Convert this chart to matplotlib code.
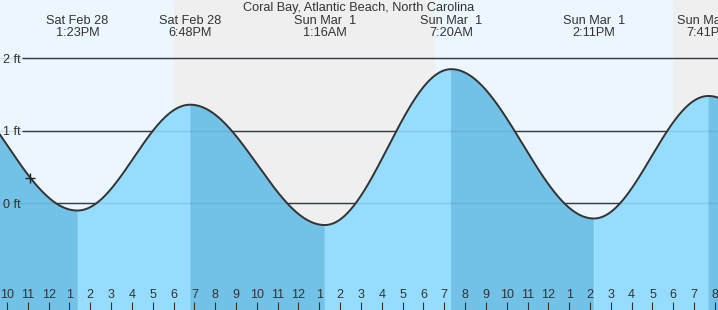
import numpy as np
import matplotlib
matplotlib.use('Agg')
import matplotlib.pyplot as plt
import matplotlib.transforms as mtransforms

plt.rcParams['font.family'] = ['Liberation Sans', 'DejaVu Sans']

# ---- data (time in hours since Sat Feb 28 00:00, heights in ft) ----
extreme_times = [6.5, 13.383, 18.8, 25.267, 31.333, 38.183, 43.683, 50.1]
extreme_heights = [1.76, -0.10, 1.36, -0.30, 1.85, -0.21, 1.48, -0.25]
label_times = [13.383, 18.8, 25.267, 31.333, 38.183, 43.683]
label_days = ['Sat Feb 28', 'Sat Feb 28', 'Sun Mar  1', 'Sun Mar  1', 'Sun Mar  1', 'Sun Mar  1']
label_clock = ['1:23PM', '6:48PM', '1:16AM', '7:20AM', '2:11PM', '7:41PM']
night_start = [18.02, 42.0]
night_end = [30.55, 50.0]
now_time = 11.12
grid_levels = [0, 1, 2]
grid_labels = ['0 ft', '1 ft', '2 ft']
tick_hours = list(range(10, 45))
tick_labels = ['10', '11', '12', '1', '2', '3', '4', '5', '6', '7', '8', '9', '10', '11',
               '12', '1', '2', '3', '4', '5', '6', '7', '8', '9', '10', '11', '12',
               '1', '2', '3', '4', '5', '6', '7', '8']
midnight_hours = [24]
title = 'Coral Bay, Atlantic Beach, North Carolina'

# ---- style ----
W, H = 718, 310
DAY_BG = '#ebf6fe'
NIGHT_BG = '#efefef'
FALL_FILL = '#72c1e6'
RISE_FILL = '#96dcfd'
INK = '#333333'


def tide(t):
    t = np.atleast_1d(np.asarray(t, dtype=float))
    T = np.array(extreme_times)
    Hh = np.array(extreme_heights)
    idx = np.clip(np.searchsorted(T, t) - 1, 0, len(T) - 2)
    t0, t1 = T[idx], T[idx + 1]
    h0, h1 = Hh[idx], Hh[idx + 1]
    return h0 + (h1 - h0) * (1 - np.cos(np.pi * (t - t0) / (t1 - t0))) / 2


fig = plt.figure(figsize=(W / 100, H / 100), dpi=100)
ax = fig.add_axes([0, 0, 1, 1])
x0, x1 = 9.667, 44.146
y0, y1 = -1.472, 2.804
ax.set_xlim(x0, x1)
ax.set_ylim(y0, y1)
ax.set_facecolor(DAY_BG)
for s in ax.spines.values():
    s.set_visible(False)
ax.yaxis.set_visible(False)

# night shading
for a, b in zip(night_start, night_end):
    ax.axvspan(a, b, color=NIGHT_BG, lw=0, zorder=0)

# gridlines (behind fill)
ytrans = ax.get_yaxis_transform()
ax.hlines(grid_levels, 22 / W, 1, transform=ytrans, color=INK, lw=1.0, zorder=1)

# fill under the tide curve, shaded by falling/rising
for i in range(len(extreme_times) - 1):
    ta, tb = extreme_times[i], extreme_times[i + 1]
    tt = np.linspace(ta, tb, 200)
    col = FALL_FILL if extreme_heights[i + 1] < extreme_heights[i] else RISE_FILL
    ax.fill_between(tt, tide(tt), y0 - 1, color=col, lw=0.3, edgecolor=col, zorder=2)

# faint gridlines over the fill
ax.hlines(grid_levels, 0, 1, transform=ytrans, color='#3a6f8a', lw=1.0, alpha=0.18, zorder=3)

# curve
tt = np.linspace(x0 - 0.5, x1 + 0.5, 2000)
ax.plot(tt, tide(tt), color=INK, lw=1.4, zorder=4)

# current time marker
ax.plot([now_time], tide(now_time), marker='+', ms=7, mew=1.0, color='#222222', zorder=5)

# y labels
for lev, lab in zip(grid_levels, grid_labels):
    tr = mtransforms.offset_copy(ytrans, fig=fig, x=0, y=-4.4, units='dots')
    ax.text(3 / W, lev, lab, transform=tr, ha='left', va='baseline',
            fontsize=9, color=INK, zorder=6)

# x ticks
ax.set_xticks(tick_hours)
ax.set_xticklabels(tick_labels)
ax.tick_params(axis='x', which='major', direction='in', length=5.8, width=0.8,
               color=INK, labelsize=9, labelcolor=INK, pad=-15)
ax.set_xticks(midnight_hours, minor=True)
ax.tick_params(axis='x', which='minor', direction='in', length=5.8, width=2.4,
               color='#222222', labelbottom=False)
ax.xaxis.set_zorder(6)

# top labels
xtrans = ax.get_xaxis_transform()
ax.text(0.5, 1 - 11 / H, title, transform=ax.transAxes, ha='center', va='baseline',
        fontsize=9.2, color=INK, zorder=6)
for tx, d, c in zip(label_times, label_days, label_clock):
    ax.text(tx, 1 - 24 / H, d, transform=xtrans, ha='center', va='baseline',
            fontsize=9.2, color=INK, zorder=6)
    ax.text(tx, 1 - 36.3 / H, c, transform=xtrans, ha='center', va='baseline',
            fontsize=9.2, color=INK, zorder=6)

fig.savefig('out.png', dpi=100)
